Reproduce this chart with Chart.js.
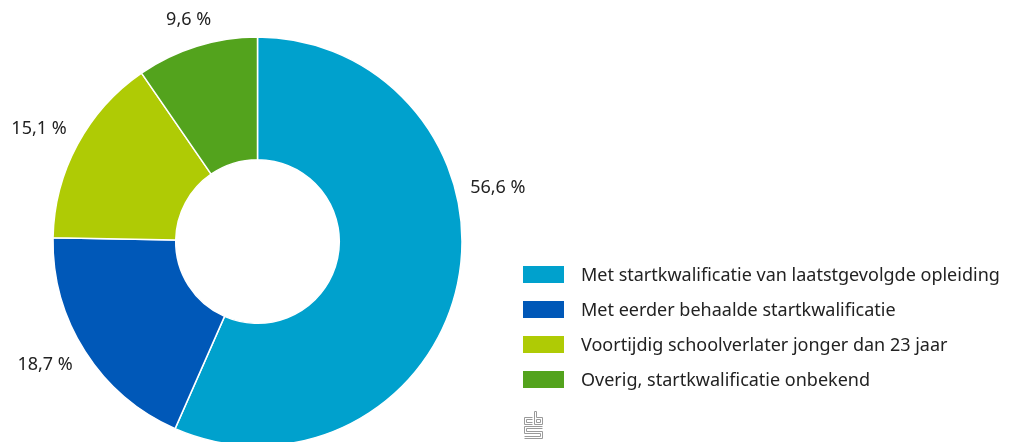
<!DOCTYPE html>
<html>
<head>
<meta charset="utf-8">
<script src="https://cdn.jsdelivr.net/npm/chart.js@4/dist/chart.umd.min.js"></script>
<style>
  html, body { margin: 0; padding: 0; background: #fff; }
  canvas { display: block; }
</style>
</head>
<body>
<canvas id="chart" width="1010" height="442"></canvas>
<script>
const categories = [
  "Met startkwalificatie van laatstgevolgde opleiding",
  "Met eerder behaalde startkwalificatie",
  "Voortijdig schoolverlater jonger dan 23 jaar",
  "Overig, startkwalificatie onbekend"
];
const shares = [56.6, 18.7, 15.1, 9.6];
const colors = ["#00a1cd", "#0058b8", "#afcb05", "#53a31d"];

const FONT = "18px 'Noto Sans', sans-serif";
const TEXT = "#222222";

function fmt(v) {
  return v.toFixed(1).replace(".", ",") + " %";
}

// percentage labels outside the ring
const outsideLabels = {
  id: "outsideLabels",
  afterDatasetsDraw(chart, args, opts) {
    const ctx = chart.ctx;
    const arcs = chart.getDatasetMeta(0).data;
    ctx.save();
    ctx.font = FONT;
    ctx.fillStyle = TEXT;
    ctx.textAlign = "center";
    ctx.textBaseline = "middle";
    arcs.forEach((arc, i) => {
      const shift = (opts.shift[i] || 0) * Math.PI / 180;
      const a = (arc.startAngle + arc.endAngle) / 2 + shift;
      const txt = fmt(shares[i]);
      const hw = ctx.measureText(txt).width / 2;
      const hh = 8;
      const dx = Math.cos(a), dy = Math.sin(a);
      const r = arc.outerRadius + opts.gap + Math.abs(dx) * hw + Math.abs(dy) * hh;
      ctx.fillText(txt, arc.x + dx * r, arc.y + dy * r);
    });
    ctx.restore();
  }
};

// legend on the right + small logo
const sideLegend = {
  id: "sideLegend",
  afterDraw(chart, args, opts) {
    const ctx = chart.ctx;
    ctx.save();
    ctx.font = FONT;
    ctx.textBaseline = "middle";
    chart.data.labels.forEach((lab, i) => {
      const y = opts.top + i * opts.row;
      ctx.fillStyle = chart.data.datasets[0].backgroundColor[i];
      ctx.fillRect(opts.left, y - 8.5, 41, 17);
      ctx.fillStyle = TEXT;
      ctx.fillText(lab, opts.left + 58, y + 1);
    });

    // cbs mark
    const x = opts.left + 1, y = 411;
    ctx.strokeStyle = "#9a9a9a";
    ctx.lineWidth = 1;
    ctx.beginPath();
    // "c"
    ctx.moveTo(x + 8.5, y + 6.5); ctx.lineTo(x + 0.5, y + 6.5); ctx.lineTo(x + 0.5, y + 13.5); ctx.lineTo(x + 8.5, y + 13.5);
    ctx.moveTo(x + 8.5, y + 8.5); ctx.lineTo(x + 2.5, y + 8.5); ctx.lineTo(x + 2.5, y + 11.5); ctx.lineTo(x + 8.5, y + 11.5);
    // "b"
    ctx.moveTo(x + 10.5, y + 0.5); ctx.lineTo(x + 10.5, y + 13.5); ctx.lineTo(x + 18.5, y + 13.5); ctx.lineTo(x + 18.5, y + 6.5); ctx.lineTo(x + 12.5, y + 6.5); ctx.lineTo(x + 12.5, y + 0.5); ctx.closePath();
    ctx.rect(x + 12.5, y + 8.5, 4, 3);
    // "s"
    ctx.moveTo(x + 18.5, y + 15.5); ctx.lineTo(x + 0.5, y + 15.5); ctx.lineTo(x + 0.5, y + 22.5); ctx.lineTo(x + 16.5, y + 22.5); ctx.lineTo(x + 16.5, y + 25.5); ctx.lineTo(x + 0.5, y + 25.5);
    ctx.moveTo(x + 18.5, y + 17.5); ctx.lineTo(x + 2.5, y + 17.5); ctx.lineTo(x + 2.5, y + 20.5); ctx.lineTo(x + 18.5, y + 20.5); ctx.lineTo(x + 18.5, y + 27.5); ctx.lineTo(x + 0.5, y + 27.5);
    ctx.stroke();
    ctx.restore();
  }
};

new Chart(document.getElementById("chart"), {
  type: "doughnut",
  data: {
    labels: categories,
    datasets: [{
      data: shares,
      backgroundColor: colors,
      borderColor: "#ffffff",
      borderWidth: 1.5,
      hoverOffset: 0
    }]
  },
  options: {
    responsive: false,
    animation: false,
    devicePixelRatio: 1,
    radius: 204.5,
    cutout: "40%",
    layout: { padding: { left: 0, right: 495, top: 41, bottom: 0 } },
    events: [],
    plugins: {
      legend: { display: false },
      tooltip: { enabled: false },
      outsideLabels: { gap: 13, shift: [-24.5, 2.5, -1, 0] },
      sideLegend: { left: 523, top: 274.5, row: 35 }
    }
  },
  plugins: [outsideLabels, sideLegend]
});
</script>
</body>
</html>
